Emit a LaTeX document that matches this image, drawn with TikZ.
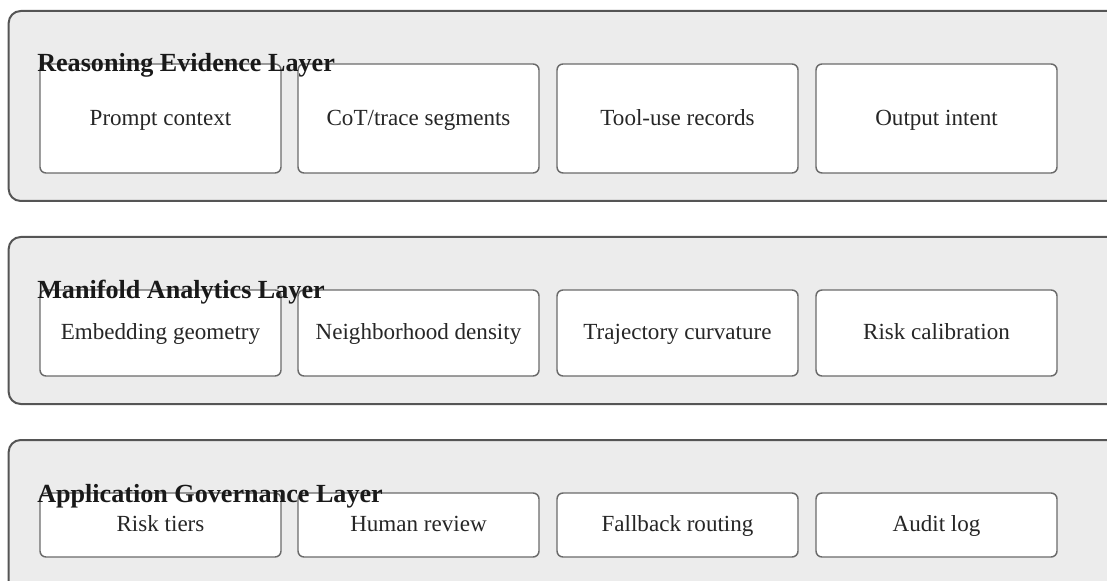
\documentclass[tikz,border=0pt]{standalone}
\usepackage{fontspec}
\setmainfont{Liberation Serif}
\definecolor{layerfill}{HTML}{ECECEC}
\definecolor{layerline}{HTML}{555555}
\definecolor{boxline}{HTML}{6A6A6A}
\begin{document}
\begin{tikzpicture}
  [x=0.75pt,y=-0.75pt,
   layer/.style={draw=layerline,fill=layerfill,line width=1.5pt,rounded corners=9pt,inner sep=0pt},
   item/.style={draw=boxline,fill=white,line width=1.1pt,rounded corners=4.5pt,inner sep=0pt,
     minimum width=180.75pt,text height=13.5pt,text depth=3.7pt,
     font=\fontsize{17.3}{20}\selectfont,text=black!85},
   title/.style={anchor=base west,inner sep=0pt,font=\fontsize{19.6}{23}\selectfont\bfseries,text=black!90}]
  \clip (0,0) rectangle (1107,581);

  % layer frames (they run past the right edge)
  \node[layer,minimum width=833pt,minimum height=142.5pt] (lay1) at (564,106) {};
  \node[layer,minimum width=833pt,minimum height=125.25pt] (lay2) at (564,320.5) {};
  \node[layer,minimum width=833pt,minimum height=135pt] (lay3) at (564,530) {};

  % reasoning evidence
  \node[item,minimum height=81.75pt] (re1) at (160.5,118.5) {Prompt context};
  \node[item,minimum height=81.75pt] (re2) at (418.5,118.5) {CoT/trace segments};
  \node[item,minimum height=81.75pt] (re3) at (677.5,118.5) {Tool-use records};
  \node[item,minimum height=81.75pt] (re4) at (936.5,118.5) {Output intent};

  % manifold analytics
  \node[item,minimum height=64.5pt] (ma1) at (160.5,333) {Embedding geometry};
  \node[item,minimum height=64.5pt] (ma2) at (418.5,333) {Neighborhood density};
  \node[item,minimum height=64.5pt] (ma3) at (677.5,333) {Trajectory curvature};
  \node[item,minimum height=64.5pt] (ma4) at (936.5,333) {Risk calibration};

  % application governance
  \node[item,minimum height=48pt] (ag1) at (160.5,525) {Risk tiers};
  \node[item,minimum height=48pt] (ag2) at (418.5,525) {Human review};
  \node[item,minimum height=48pt] (ag3) at (677.5,525) {Fallback routing};
  \node[item,minimum height=48pt] (ag4) at (936.5,525) {Audit log};

  \node[title] (t1) at (37,72) {Reasoning Evidence Layer};
  \node[title] (t2) at (37,298) {Manifold Analytics Layer};
  \node[title] (t3) at (37,502) {Application Governance Layer};
\end{tikzpicture}
\end{document}
